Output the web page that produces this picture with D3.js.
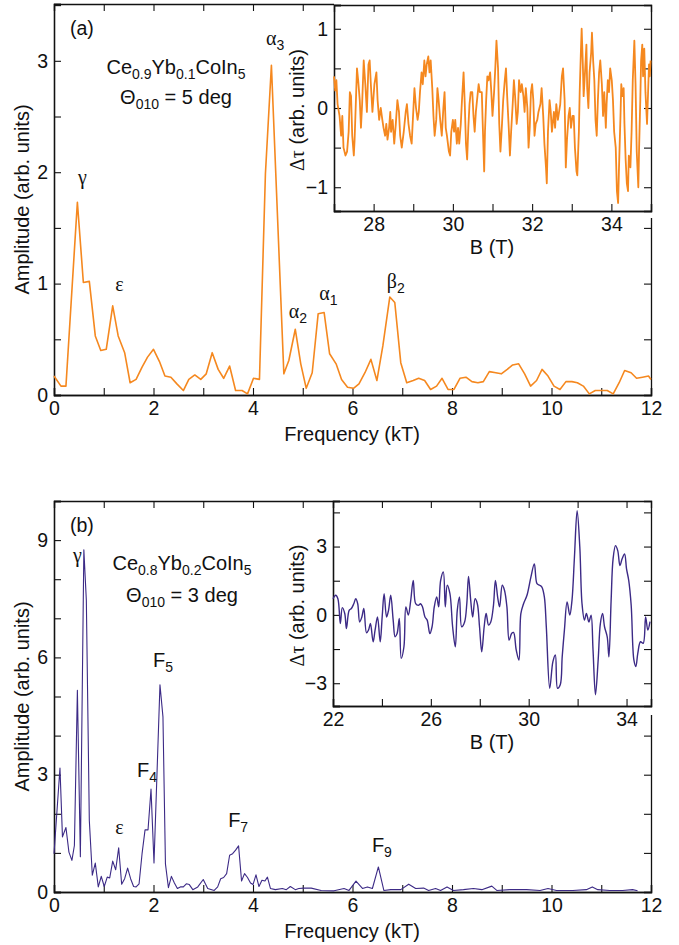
<!DOCTYPE html>
<html>
<head>
<meta charset="utf-8">
<script src="https://cdn.jsdelivr.net/npm/d3@7"></script>
<style>
  body { margin: 0; background: white; }
  svg text { font-family: "Liberation Sans", Arial, Helvetica, sans-serif; fill: #111; }
  .greek { font-family: "Liberation Serif", "DejaVu Serif", serif; }
</style>
</head>
<body>
<script>
// panel (a) FFT spectrum
const freqA = [0, 0.14, 0.24, 0.47, 0.59, 0.71, 0.83, 0.94, 1.05, 1.18, 1.29, 1.42, 1.53, 1.65, 1.77, 1.88, 2.0, 2.12, 2.23, 2.35, 2.47, 2.6, 2.71, 2.83, 2.95, 3.06, 3.18, 3.3, 3.41, 3.53, 3.65, 3.78, 3.89, 4.01, 4.13, 4.25, 4.37, 4.62, 4.72, 4.85, 4.96, 5.07, 5.19, 5.31, 5.43, 5.54, 5.67, 5.78, 5.9, 6.02, 6.13, 6.25, 6.37, 6.49, 6.61, 6.75, 6.85, 6.97, 7.09, 7.22, 7.33, 7.45, 7.57, 7.69, 7.8, 7.92, 8.04, 8.16, 8.28, 8.4, 8.52, 8.63, 8.75, 8.88, 8.99, 9.11, 9.22, 9.34, 9.46, 9.58, 9.7, 9.81, 9.93, 10.05, 10.17, 10.29, 10.41, 10.52, 10.64, 10.76, 10.88, 11.0, 11.12, 11.24, 11.36, 11.47, 11.6, 11.71, 11.83, 11.95, 12.0];
const ampA = [0.17, 0.08, 0.08, 1.73, 1.01, 1.02, 0.53, 0.40, 0.41, 0.80, 0.53, 0.38, 0.11, 0.14, 0.25, 0.34, 0.41, 0.30, 0.17, 0.16, 0.10, 0.04, 0.14, 0.18, 0.14, 0.19, 0.38, 0.23, 0.15, 0.26, 0.04, 0.04, 0.01, 0.15, 0.14, 1.99, 2.96, 0.19, 0.31, 0.59, 0.28, 0.06, 0.20, 0.73, 0.74, 0.37, 0.28, 0.14, 0.07, 0.06, 0.10, 0.20, 0.32, 0.13, 0.44, 0.88, 0.83, 0.29, 0.11, 0.13, 0.15, 0.13, 0.05, 0.08, 0.15, 0.05, 0.05, 0.15, 0.16, 0.12, 0.11, 0.12, 0.21, 0.20, 0.19, 0.23, 0.27, 0.28, 0.19, 0.08, 0.13, 0.23, 0.17, 0.08, 0.05, 0.12, 0.12, 0.11, 0.08, 0.01, 0.04, 0.04, 0.04, 0.01, 0.11, 0.22, 0.20, 0.15, 0.16, 0.17, 0.14];

// panel (a) inset: torque vs field
const fieldA = [27.00, 27.03, 27.06, 27.09, 27.14, 27.18, 27.21, 27.24, 27.29, 27.33, 27.37, 27.40, 27.43, 27.46, 27.50, 27.52, 27.56, 27.58, 27.61, 27.65, 27.68, 27.71, 27.75, 27.79, 27.83, 27.87, 27.90, 27.93, 27.97, 28.02, 28.07, 28.10, 28.14, 28.18, 28.22, 28.25, 28.29, 28.32, 28.35, 28.39, 28.42, 28.44, 28.48, 28.52, 28.56, 28.60, 28.64, 28.67, 28.71, 28.76, 28.81, 28.84, 28.88, 28.92, 28.96, 29.01, 29.03, 29.07, 29.11, 29.14, 29.17, 29.21, 29.24, 29.28, 29.31, 29.34, 29.38, 29.41, 29.44, 29.48, 29.51, 29.54, 29.58, 29.61, 29.64, 29.68, 29.72, 29.76, 29.79, 29.82, 29.85, 29.90, 29.93, 29.96, 30.00, 30.03, 30.06, 30.10, 30.13, 30.16, 30.20, 30.23, 30.27, 30.30, 30.33, 30.36, 30.39, 30.42, 30.45, 30.49, 30.52, 30.55, 30.58, 30.62, 30.65, 30.68, 30.73, 30.75, 30.79, 30.81, 30.84, 30.87, 30.90, 30.94, 30.97, 31.00, 31.04, 31.07, 31.10, 31.14, 31.17, 31.20, 31.24, 31.27, 31.31, 31.34, 31.37, 31.41, 31.44, 31.47, 31.51, 31.54, 31.57, 31.61, 31.64, 31.67, 31.71, 31.74, 31.78, 31.81, 31.84, 31.88, 31.91, 31.94, 31.97, 32.00, 32.03, 32.06, 32.09, 32.13, 32.16, 32.21, 32.24, 32.28, 32.31, 32.35, 32.37, 32.40, 32.44, 32.47, 32.50, 32.55, 32.58, 32.61, 32.65, 32.68, 32.71, 32.75, 32.78, 32.82, 32.85, 32.88, 32.92, 32.95, 32.98, 33.02, 33.05, 33.08, 33.12, 33.14, 33.18, 33.20, 33.23, 33.25, 33.28, 33.30, 33.34, 33.37, 33.39, 33.42, 33.45, 33.49, 33.51, 33.54, 33.57, 33.60, 33.63, 33.66, 33.69, 33.72, 33.76, 33.79, 33.82, 33.86, 33.88, 33.91, 33.94, 33.97, 34.01, 34.04, 34.07, 34.11, 34.14, 34.17, 34.19, 34.23, 34.25, 34.28, 34.31, 34.33, 34.36, 34.39, 34.42, 34.44, 34.48, 34.51, 34.54, 34.58, 34.61, 34.64, 34.68, 34.70, 34.73, 34.75, 34.78, 34.80, 34.83, 34.86, 34.90, 34.92, 34.95, 34.97, 34.99];
const tauA = [0.40, 0.22, 0.35, 0.05, -0.10, -0.35, -0.10, -0.50, -0.60, -0.55, -0.30, 0.20, 0.15, -0.35, -0.60, -0.40, 0.20, 0.50, 0.35, 0.10, -0.25, 0.05, 0.60, 0.30, -0.05, 0.55, 0.60, 0.30, -0.05, 0.30, 0.45, 0.10, -0.15, 0.00, -0.15, -0.25, -0.35, -0.20, -0.40, -0.25, -0.05, -0.30, -0.15, -0.45, -0.20, 0.10, -0.05, -0.35, -0.50, -0.30, -0.05, 0.05, -0.20, -0.35, -0.45, 0.05, 0.25, 0.00, -0.15, -0.05, 0.20, 0.45, 0.30, 0.60, 0.40, 0.55, 0.65, 0.45, 0.60, 0.25, -0.10, -0.35, -0.15, 0.25, 0.10, -0.15, -0.35, 0.00, 0.20, -0.25, -0.35, -0.55, -0.60, -0.30, -0.15, -0.30, -0.15, -0.45, -0.25, -0.45, -0.20, 0.10, 0.45, 0.05, -0.45, -0.65, -0.25, 0.05, 0.20, 0.20, -0.10, -0.30, -0.05, 0.15, 0.30, 0.20, 0.20, -0.15, -0.80, -0.30, 0.10, 0.40, 0.35, 0.45, 0.20, -0.10, 0.20, 0.50, 0.85, 0.50, -0.20, -0.55, -0.20, 0.10, 0.35, 0.50, 0.15, -0.25, -0.60, -0.30, 0.05, 0.35, 0.15, -0.20, -0.05, 0.35, 0.20, 0.30, 0.15, -0.05, 0.25, 0.00, -0.50, -0.25, 0.20, 0.30, 0.10, -0.35, -0.20, -0.15, -0.05, 0.05, 0.25, -0.10, -0.45, -0.75, -0.95, -0.30, 0.10, -0.05, -0.30, -0.05, -0.25, 0.05, -0.15, -0.05, 0.05, 0.40, 0.50, 0.10, -0.75, -0.40, -0.10, 0.00, -0.25, -0.10, -0.10, -0.50, -0.80, -0.85, -0.30, 0.20, 0.70, 1.00, 0.55, 0.15, 0.50, 0.80, 0.25, 0.00, 0.45, 0.70, 0.95, 0.60, 0.35, -0.15, -0.35, 0.10, 0.45, 0.60, 0.30, -0.10, 0.20, -0.25, 0.05, 0.35, 0.20, 0.50, 0.35, 0.10, -0.30, -0.50, -1.05, -1.20, -0.80, -0.10, 0.30, 0.15, 0.25, -0.20, -0.65, -0.95, -1.05, -0.60, -0.75, -0.30, 0.35, 0.85, 0.30, -0.55, -1.00, -0.50, 0.10, 0.60, 0.80, 0.40, 0.75, 0.20, -0.20, 0.10, 0.55, 0.40, 0.60];

// panel (b) FFT spectrum
const freqB = [0, 0.12, 0.17, 0.24, 0.3, 0.36, 0.41, 0.47, 0.53, 0.6, 0.65, 0.71, 0.77, 0.83, 0.89, 0.95, 1.01, 1.07, 1.12, 1.18, 1.24, 1.3, 1.36, 1.42, 1.48, 1.54, 1.6, 1.65, 1.71, 1.77, 1.83, 1.89, 1.95, 2.01, 2.13, 2.19, 2.24, 2.3, 2.36, 2.42, 2.48, 2.54, 2.6, 2.66, 2.72, 2.79, 2.89, 3.0, 3.09, 3.22, 3.29, 3.35, 3.41, 3.47, 3.53, 3.59, 3.65, 3.71, 3.77, 3.83, 3.89, 3.95, 4.0, 4.06, 4.12, 4.18, 4.24, 4.29, 4.35, 4.45, 4.59, 4.67, 4.75, 4.85, 4.92, 5.02, 5.17, 5.37, 5.63, 5.83, 5.93, 6.07, 6.2, 6.3, 6.4, 6.52, 6.63, 6.77, 6.97, 7.13, 7.27, 7.43, 7.53, 7.67, 7.77, 7.9, 8.03, 8.23, 8.43, 8.6, 8.8, 8.9, 9.17, 9.5, 9.77, 9.93, 10.1, 10.43, 10.7, 10.82, 10.93, 11.17, 11.43, 11.63, 11.73];
const ampB = [0.98, 3.17, 1.41, 1.65, 1.02, 0.81, 1.19, 5.16, 0.90, 8.75, 7.46, 1.83, 0.43, 0.74, 0.13, 0.40, 0.14, 0.38, 0.36, 0.79, 0.57, 1.13, 0.20, 0.34, 0.61, 0.34, 0.14, 0.13, 0.21, 0.98, 1.59, 1.59, 2.63, 0.74, 5.30, 4.48, 0.72, 0.11, 0.40, 0.23, 0.09, 0.13, 0.13, 0.21, 0.19, 0.06, 0.13, 0.32, 0.09, 0.04, 0.13, 0.34, 0.37, 0.47, 0.94, 0.98, 1.07, 1.18, 0.28, 0.47, 0.37, 0.23, 0.19, 0.44, 0.14, 0.30, 0.28, 0.38, 0.09, 0.06, 0.09, 0.06, 0.14, 0.06, 0.09, 0.10, 0.10, 0.04, 0.03, 0.09, 0.04, 0.28, 0.09, 0.13, 0.09, 0.64, 0.04, 0.06, 0.06, 0.20, 0.09, 0.10, 0.04, 0.09, 0.04, 0.13, 0.04, 0.06, 0.09, 0.06, 0.15, 0.04, 0.06, 0.06, 0.04, 0.09, 0.04, 0.04, 0.06, 0.13, 0.06, 0.04, 0.04, 0.06, 0.03];

// panel (b) inset: torque vs field
const fieldB = [22.00, 22.11, 22.20, 22.30, 22.38, 22.48, 22.55, 22.66, 22.75, 22.85, 22.93, 23.01, 23.09, 23.18, 23.26, 23.37, 23.45, 23.53, 23.64, 23.72, 23.82, 23.93, 24.01, 24.09, 24.19, 24.27, 24.36, 24.46, 24.54, 24.62, 24.71, 24.79, 24.90, 24.98, 25.08, 25.17, 25.28, 25.38, 25.49, 25.58, 25.66, 25.76, 25.85, 25.96, 26.05, 26.14, 26.24, 26.32, 26.40, 26.51, 26.59, 26.67, 26.78, 26.89, 27.00, 27.08, 27.17, 27.26, 27.38, 27.47, 27.54, 27.63, 27.71, 27.81, 27.90, 27.99, 28.08, 28.18, 28.26, 28.36, 28.45, 28.56, 28.64, 28.74, 28.81, 28.92, 29.01, 29.11, 29.20, 29.30, 29.38, 29.49, 29.60, 29.68, 29.79, 29.93, 30.09, 30.23, 30.34, 30.45, 30.54, 30.64, 30.72, 30.86, 30.99, 31.09, 31.18, 31.29, 31.37, 31.46, 31.57, 31.68, 31.77, 31.87, 31.98, 32.09, 32.18, 32.28, 32.36, 32.46, 32.55, 32.63, 32.73, 32.84, 32.93, 33.02, 33.10, 33.21, 33.28, 33.37, 33.45, 33.55, 33.64, 33.73, 33.82, 33.92, 34.00, 34.09, 34.19, 34.30, 34.38, 34.46, 34.57, 34.68, 34.78, 34.87, 34.96];
const tauB = [0.71, 0.86, 0.71, -0.38, 0.32, 0.06, -0.60, 0.20, 0.28, 0.49, 0.71, 0.49, -0.31, -0.09, 0.28, -0.79, -0.67, -0.38, -1.18, -0.67, -0.09, -1.18, -0.09, 0.93, -0.09, 0.20, 0.86, -0.23, -0.96, -0.82, -0.16, -1.91, -1.40, 0.35, -0.01, 0.57, 1.51, 0.49, 0.42, 0.49, 0.35, -0.09, -0.23, -0.82, -0.52, 0.35, 0.79, 0.35, 1.51, 1.88, 0.35, 1.30, 0.93, -0.52, -1.40, 0.20, 0.79, -0.52, -0.31, 0.49, 1.69, 0.64, -0.09, 0.71, 0.49, -0.52, -1.62, -0.52, 0.06, -0.45, -0.31, 0.42, 1.51, 0.71, 0.35, 1.30, 1.08, 0.35, -1.11, -0.82, -0.77, -1.54, -1.98, 0.06, 0.49, 0.86, 1.66, 2.24, 1.37, 1.30, 1.22, 0.79, -0.52, -3.22, -2.05, -1.76, -3.22, -3.07, -1.84, -0.67, 0.57, -0.01, 0.64, 2.53, 4.57, 2.97, 0.49, -0.23, 0.06, -0.31, -0.01, -1.54, -3.51, -1.98, -0.38, 0.06, -0.52, -0.96, -1.84, 0.64, 2.46, 3.04, 2.82, 2.17, 2.46, 2.68, 2.02, 1.51, 0.42, -1.98, -2.27, -1.69, -1.18, -1.25, -0.09, -0.67, -0.30];

// peak labels: name, subscript, frequency (kT), amplitude where label sits
const labelsA = [['γ', '', 0.48, 1.89], ['ε', '', 1.23, 0.93], ['α', '3', 4.26, 3.14], ['α', '2', 4.72, 0.69], ['α', '1', 5.33, 0.85], ['β', '2', 6.69, 0.96]];
const labelsB = [['γ', '', 0.38, 8.43], ['F', '5', 1.99, 5.75], ['F', '4', 1.67, 2.93], ['ε', '', 1.23, 1.48], ['F', '7', 3.50, 1.65], ['F', '9', 6.39, 1.02]];

const orange = '#f5881f';
const purple = '#3c2a86';

const svg = d3.select('body').append('svg')
    .attr('width', 679)
    .attr('height', 945);

// draws a framed box with inward ticks on all four sides
function drawFrame(g, x, y, xTicks, xMinor, yTicks, yMinor, xFmt, yFmt) {
  const [x0, x1] = x.range();
  const [y0, y1] = y.range();
  const tk = 7;
  g.append('g').attr('transform', `translate(0,${y0})`)
    .call(d3.axisBottom(x).tickValues(xTicks).tickSize(-tk).tickPadding(6).tickFormat(xFmt));
  g.append('g').attr('transform', `translate(0,${y0})`)
    .call(d3.axisBottom(x).tickValues(xMinor).tickSize(-tk).tickFormat(''));
  g.append('g').attr('transform', `translate(0,${y1})`)
    .call(d3.axisTop(x).tickValues(xTicks.concat(xMinor)).tickSize(-tk).tickFormat(''));
  g.append('g').attr('transform', `translate(${x0},0)`)
    .call(d3.axisLeft(y).tickValues(yTicks).tickSize(-tk).tickPadding(6).tickFormat(yFmt));
  g.append('g').attr('transform', `translate(${x0},0)`)
    .call(d3.axisLeft(y).tickValues(yMinor).tickSize(-tk).tickFormat(''));
  g.append('g').attr('transform', `translate(${x1},0)`)
    .call(d3.axisRight(y).tickValues(yTicks.concat(yMinor)).tickSize(-tk).tickFormat(''));
  g.selectAll('.domain').attr('stroke', '#111').attr('stroke-width', 1.3);
  g.selectAll('.tick line').attr('stroke', '#111').attr('stroke-width', 1.1);
  g.selectAll('.tick text').style('font-size', '19.5px').attr('fill', '#111')
    .style('font-family', '"Liberation Sans", Arial, sans-serif');
}

function drawPanel(cfg) {
  const g = svg.append('g');
  const x = d3.scaleLinear().domain([0, 12]).range([54, 651]);
  const y = d3.scaleLinear().domain(cfg.yDomain).range([cfg.bottom, cfg.top]);

  drawFrame(g, x, y, [0, 2, 4, 6, 8, 10, 12], [1, 3, 5, 7, 9, 11],
    cfg.yTicks, cfg.yMinor, d3.format('d'), d3.format('d'));

  g.append('path')
    .datum(cfg.freq.map((f, i) => [f, cfg.amp[i]]))
    .attr('fill', 'none')
    .attr('stroke', cfg.color)
    .attr('stroke-width', cfg.lw)
    .attr('stroke-linejoin', 'round')
    .attr('d', d3.line().x(d => x(d[0])).y(d => y(d[1])));

  g.append('text')
    .attr('x', 352).attr('y', cfg.bottom + 46)
    .attr('text-anchor', 'middle').style('font-size', '20px')
    .text('Frequency (kT)');
  g.append('text')
    .attr('transform', `translate(29,${(cfg.top + cfg.bottom) / 2}) rotate(-90)`)
    .attr('text-anchor', 'middle').style('font-size', '20px')
    .text('Amplitude (arb. units)');

  // inset
  const ins = cfg.inset;
  g.append('rect')
    .attr('x', ins.left).attr('y', cfg.top - 4)
    .attr('width', 660 - ins.left).attr('height', ins.cover - cfg.top + 4)
    .attr('fill', 'white');
  const xi = d3.scaleLinear().domain(ins.xDomain).range([ins.left, 651]);
  const yi = d3.scaleLinear().domain(ins.yDomain).range([ins.bottom, ins.top]);
  const gi = g.append('g');
  drawFrame(gi, xi, yi, ins.xTicks, ins.xMinor, ins.yTicks, ins.yMinor, d3.format('d'), d3.format('d'));
  gi.append('path')
    .datum(ins.b.map((b, i) => [b, ins.tau[i]]))
    .attr('fill', 'none')
    .attr('stroke', cfg.color)
    .attr('stroke-width', ins.lw)
    .attr('stroke-linejoin', 'round')
    .attr('d', d3.line().curve(ins.curve).x(d => xi(d[0])).y(d => yi(d[1])));
  gi.append('text')
    .attr('x', 492).attr('y', ins.bottom + 43)
    .attr('text-anchor', 'middle').style('font-size', '20px')
    .text('B (T)');
  const yt = gi.append('text')
    .attr('transform', `translate(304,${(ins.top + ins.bottom) / 2 + 2}) rotate(-90)`)
    .attr('text-anchor', 'middle').style('font-size', '20px');
  yt.append('tspan').attr('class', 'greek').text('Δτ');
  yt.append('tspan').text(' (arb. units)');

  // panel letter and sample text
  g.append('text').attr('x', 70).attr('y', cfg.top + 31)
    .style('font-size', '19.5px').text(cfg.letter);

  const t1 = g.append('text').attr('x', cfg.cx).attr('y', cfg.top + cfg.dy1)
    .attr('text-anchor', 'middle').style('font-size', '20px');
  t1.append('tspan').text('Ce');
  t1.append('tspan').attr('dy', 5).style('font-size', '14px').text(cfg.ce);
  t1.append('tspan').attr('dy', -5).text('Yb');
  t1.append('tspan').attr('dy', 5).style('font-size', '14px').text(cfg.yb);
  t1.append('tspan').attr('dy', -5).text('CoIn');
  t1.append('tspan').attr('dy', 5).style('font-size', '14px').text('5');

  const t2 = g.append('text').attr('x', cfg.cx).attr('y', cfg.top + cfg.dy2)
    .attr('text-anchor', 'middle').style('font-size', '20px');
  t2.append('tspan').text('Θ');
  t2.append('tspan').attr('dy', 5).style('font-size', '14px').text('010');
  t2.append('tspan').attr('dy', -5).text(` = ${cfg.angle} deg`);

  // peak labels
  cfg.labels.forEach(([name, sub, f, a]) => {
    const t = g.append('text').attr('x', x(f)).attr('y', y(a)).style('font-size', '20px');
    t.append('tspan').attr('class', name === 'F' ? null : 'greek').text(name);
    if (sub) t.append('tspan').attr('dy', 5).style('font-size', '14px').text(sub);
  });
}

drawPanel({
  letter: '(a)', top: 4, bottom: 395, yDomain: [0, 3.51],
  yTicks: [0, 1, 2, 3], yMinor: [0.5, 1.5, 2.5, 3.5],
  freq: freqA, amp: ampA, color: orange, lw: 1.6,
  cx: 176, dy1: 70, dy2: 100, ce: '0.9', yb: '0.1', angle: 5,
  labels: labelsA,
  inset: {
    left: 334, top: 5, bottom: 211, cover: 218,
    xDomain: [27, 35], yDomain: [-1.3, 1.3],
    xTicks: [28, 30, 32, 34], xMinor: [29, 31, 33],
    yTicks: [-1, 0, 1], yMinor: [-0.5, 0.5],
    b: fieldA, tau: tauA, lw: 1.8, curve: d3.curveLinear
  }
});

drawPanel({
  letter: '(b)', top: 501, bottom: 892, yDomain: [0, 10],
  yTicks: [0, 3, 6, 9], yMinor: [1, 2, 4, 5, 7, 8, 10],
  freq: freqB, amp: ampB, color: purple, lw: 1.1,
  cx: 182, dy1: 69, dy2: 101, ce: '0.8', yb: '0.2', angle: 3,
  labels: labelsB,
  inset: {
    left: 333, top: 501, bottom: 706, cover: 715,
    xDomain: [22, 35], yDomain: [-4, 5],
    xTicks: [22, 26, 30, 34], xMinor: [24, 28, 32],
    yTicks: [-3, 0, 3], yMinor: [-1.5, 1.5, 4.5],
    b: fieldB, tau: tauB, lw: 1.4, curve: d3.curveCatmullRom
  }
});
</script>
</body>
</html>
